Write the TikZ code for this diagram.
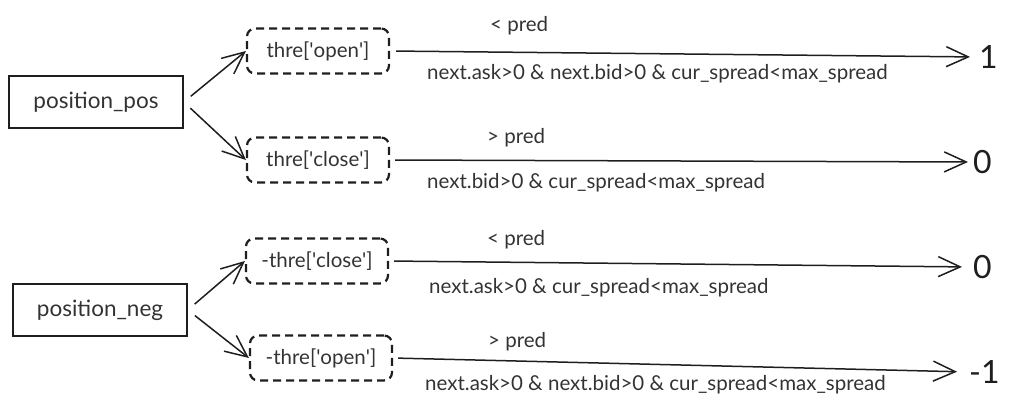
\documentclass[tikz,border=0pt]{standalone}
\usepackage{fontspec}
\setmainfont{Lato}
\usepackage{tikz}
\usetikzlibrary{positioning, arrows.meta}
\definecolor{ink}{HTML}{1E1E1E}
\definecolor{txt}{HTML}{333333}
\newcommand{\sq}{\textquotesingle}

\begin{document}
\begin{tikzpicture}[x=1pt, y=-1pt,
  srcbox/.style={draw=ink, line width=1.6pt, minimum width=174pt, minimum height=52pt, text=txt, font=\fontsize{22.5}{26}\selectfont},
  thrbox/.style={draw=ink, line width=2.2pt, dash pattern=on 8pt off 5pt, rounded corners=8pt, minimum width=142pt, minimum height=45pt, text=txt, font=\fontsize{20.5}{24}\selectfont},
  arr/.style={draw=ink, line width=1.5pt, -{Straight Barb[length=22pt, width=20pt, line width=1.5pt]}},
  cond/.style={text=txt, anchor=west, inner sep=0pt, font=\fontsize{20.5}{24}\selectfont},
  outv/.style={text=ink, anchor=west, inner sep=0pt, font=\fontsize{32}{38}\selectfont}]
\useasboundingbox (0,0) rectangle (1014,407);
% sources
\node[srcbox] (pos) at (96,102) {position\_pos};
\node[srcbox] (neg) at (100,310) {position\_neg};
% thresholds
\node[thrbox] (open) at (318,51) {thre[\sq open\sq]};
\node[thrbox] (close) at (318,160) {thre[\sq close\sq]};
\node[thrbox] (cneg) at (317,261) {-thre[\sq close\sq]};
\node[thrbox] (oneg) at (321,358) {-thre[\sq open\sq]};
% results
\node[outv] (one) at (979,57) {1};
\node[outv] (zeroA) at (973,162) {0};
\node[outv] (zeroB) at (973,267) {0};
\node[outv] (mone) at (969,372) {-1};
\draw[arr, shorten <=9pt] (pos.east) -- (open.west);
\draw[arr, shorten <=9pt] (pos.east) -- (close.west);
\draw[arr, shorten <=9pt] (neg.east) -- (cneg.west);
\draw[arr, shorten <=9pt] (neg.east) -- (oneg.west);
\draw[arr, shorten <=6pt, shorten >=9pt] (open.east) -- (one.west);
\draw[arr, shorten <=5pt, shorten >=5pt] (close.east) -- (zeroA.west);
\draw[arr, shorten <=5pt, shorten >=11pt] (cneg.east) -- (zeroB.west);
\draw[arr, shorten <=5pt, shorten >=12pt] (oneg.east) -- (mone.west);
% conditions
\node[cond] at (490,26) {< pred};
\node[cond] at (427,74) {next.ask>0 \& next.bid>0 \& cur\_spread<max\_spread};
\node[cond] at (487,138) {> pred};
\node[cond] at (427,183) {next.bid>0 \& cur\_spread<max\_spread};
\node[cond] at (487,240) {< pred};
\node[cond] at (429,288) {next.ask>0 \& cur\_spread<max\_spread};
\node[cond] at (488,342) {> pred};
\node[cond] at (425,385) {next.ask>0 \& next.bid>0 \& cur\_spread<max\_spread};
\end{tikzpicture}
\end{document}
